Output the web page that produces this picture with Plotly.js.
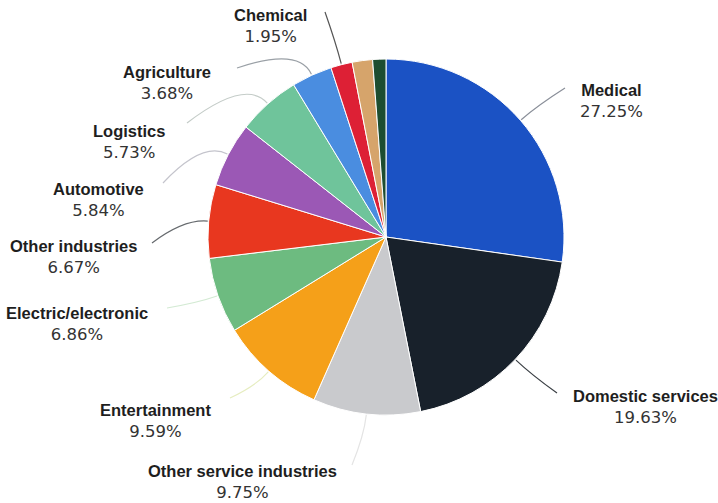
<!DOCTYPE html>
<html><head><meta charset="utf-8">
<script src="https://cdn.plot.ly/plotly-3.0.1.min.js"></script>
<style>html,body{margin:0;padding:0;background:#fff}#chart{width:718px;height:503px}</style>
</head><body><div id="chart"></div>
<script>
// ---- data ----
const categories = ["Medical","Domestic services","Other service industries","Entertainment","Electric/electronic","Other industries","Automotive","Logistics","Agriculture","Chemical","Unlabeled A","Unlabeled B"];
const shares = [27.25,19.63,9.75,9.59,6.86,6.67,5.84,5.73,3.68,1.95,1.85,1.20];
const percentLabels = ["27.25%","19.63%","9.75%","9.59%","6.86%","6.67%","5.84%","5.73%","3.68%","1.95%","",""];
const showLabel = [true,true,true,true,true,true,true,true,true,true,false,false];

// ---- styles / layout ----
const sliceColors = ["#1b52c4","#18212b","#c9cacd","#f5a019","#6dbb80","#e8371f","#9b58b5","#6fc49b","#4a8de0","#dd2035","#d6a46b","#1d4d30"];
const labelCenters = [[611,90],[645,396],[242,471],[155,410],[77,313],[73,246],[98,189],[129,131],[167,72],[270,15]];
const leaderEnds = [[565,88],[557,393],[352,465],[230,398],[167,308],[152,243],[163,183],[187,123],[237,68],[325,12]];
const leaderColors = ["#8a8f99","#3a3f44","#e4e4e4","#e6edc0","#d3ead3","#666a6e","#c4c4cc","#c4ccc8","#9aa0a6","#555555"];

const W = 718, H = 503;
const pieDomain = {x:[208/W, 564/W], y:[88/H, 444/H]};

const cx = (pieDomain.x[0]+pieDomain.x[1])/2*W;
const cy = (1-(pieDomain.y[0]+pieDomain.y[1])/2)*H;
const R = Math.min((pieDomain.x[1]-pieDomain.x[0])*W, (pieDomain.y[1]-pieDomain.y[0])*H)/2;
const total = shares.reduce((a,b)=>a+b,0);

const px = x => x/W, py = y => 1 - y/H;
const annotations = [], shapes = [];
let cum = 0;
shares.forEach((v,i)=>{
  const mid = (cum + v/2)/total*2*Math.PI;
  cum += v;
  if(!showLabel[i]) return;
  const dx = Math.sin(mid), dy = -Math.cos(mid);
  const sx = cx + (R+1)*dx, sy = cy + (R+1)*dy;
  const [ex, ey] = leaderEnds[i];
  const dist = Math.hypot(ex-sx, ey-sy);
  const qx = sx + dx*dist*0.4, qy = sy + dy*dist*0.4;
  shapes.push({type:'path', xref:'paper', yref:'paper',
    path:`M ${px(sx)} ${py(sy)} Q ${px(qx)} ${py(qy)} ${px(ex)} ${py(ey)}`,
    line:{color:leaderColors[i], width:1.2}});
  const [tx, ty] = labelCenters[i];
  annotations.push({xref:'paper', yref:'paper', x:px(tx), y:py(ty+10.7),
    xanchor:'center', yanchor:'middle', align:'center', showarrow:false,
    text:`<b>${categories[i]}</b><br><span style="font-family:DejaVu Sans;color:#333">${percentLabels[i]}</span>`,
    font:{family:'Liberation Sans, Arial, sans-serif', size:16.5, color:'#1e1e1e'}});
});

const trace = {
  type:'pie', labels:categories, values:shares, sort:false, direction:'clockwise', rotation:0,
  textinfo:'none', hoverinfo:'skip', showlegend:false,
  marker:{colors:sliceColors, line:{color:'#ffffff', width:1}},
  domain:pieDomain
};
Plotly.newPlot('chart',[trace],{
  width:W, height:H, margin:{l:0,r:0,t:0,b:0}, paper_bgcolor:'#fff', showlegend:false,
  annotations, shapes
},{staticPlot:true});
</script></body></html>
